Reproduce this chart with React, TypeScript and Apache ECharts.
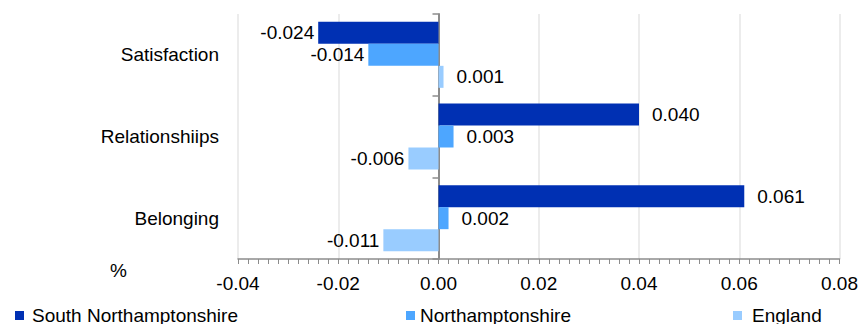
import React, { useEffect, useRef } from "react";
import * as echarts from "echarts";

const categories = ["Satisfaction", "Relationshiips", "Belonging"];
const seriesNames = ["South Northamptonshire", "Northamptonshire", "England"];
const southValues = [-0.024, 0.04, 0.061];
const northValues = [-0.014, 0.003, 0.002];
const englandValues = [0.001, -0.006, -0.011];
const colors = ["#0030b3", "#4da6ff", "#99ccff"];
const xTicks = { min: -0.04, max: 0.08, interval: 0.02 };

const FONT = "Liberation Sans, Arial, sans-serif";
const FS = 19;

function makeData(values: number[]) {
  return values.map((v) => ({
    value: v,
    label: v >= 0 ? { position: "right", distance: 13 } : { position: "left", distance: 4 },
  }));
}

export default function App() {
  const ref = useRef<HTMLDivElement>(null);
  useEffect(() => {
    if (!ref.current) return;
    const chart = echarts.init(ref.current, null, { renderer: "svg" });
    const allValues = [southValues, northValues, englandValues];
    const legendLefts = [15, 406, 733];
    const legendTextPad = [3, 0, 5];
    chart.setOption({
      animation: false,
      textStyle: { fontFamily: FONT },
      grid: { left: 238, right: 19, top: 14, bottom: 65, containLabel: false },
      legend: seriesNames.map((n, i) => ({
        data: [n],
        left: legendLefts[i],
        top: 306,
        padding: 0,
        itemWidth: 9,
        itemHeight: 9,
        icon: "rect",
        itemGap: 0,
        textStyle: { fontSize: FS, color: "#000", fontFamily: FONT, padding: [0, 0, 0, legendTextPad[i]] },
      })),
      graphic: [
        {
          type: "text",
          left: 110,
          top: 261,
          style: { text: "%", fontSize: FS, fill: "#000", fontFamily: FONT },
        },
      ],
      xAxis: {
        type: "value",
        min: xTicks.min,
        max: xTicks.max,
        interval: xTicks.interval,
        axisLine: { show: true, lineStyle: { color: "#8c8c8c", width: 1.5 } },
        axisTick: { show: true, length: 5, lineStyle: { color: "#8c8c8c" } },
        minorTick: { show: true, splitNumber: 10, length: 5, lineStyle: { color: "#8c8c8c" } },
        splitLine: { show: true, lineStyle: { color: "#e6e6e6", width: 1.5 } },
        axisLabel: {
          fontSize: FS,
          color: "#000",
          margin: 15,
          fontFamily: FONT,
          formatter: (v: number) => v.toFixed(2),
        },
      },
      yAxis: [
        {
          type: "category",
          data: categories,
          inverse: true,
          position: "left",
          axisLine: { show: false, onZero: false },
          axisTick: { show: false },
          axisLabel: { fontSize: FS, color: "#000", margin: 19, fontFamily: FONT },
        },
        {
          type: "category",
          data: categories,
          inverse: true,
          position: "left",
          axisLine: { show: true, onZero: true, lineStyle: { color: "#8c8c8c", width: 2 } },
          axisTick: { show: true, length: 6, lineStyle: { color: "#8c8c8c", width: 1.5 } },
          axisLabel: { show: false },
        },
      ],
      series: seriesNames.map((n, i) => ({
        name: n,
        type: "bar",
        yAxisIndex: 0,
        barWidth: 22,
        barGap: "0%",
        itemStyle: { color: colors[i] },
        label: {
          show: true,
          fontSize: FS,
          color: "#000",
          fontFamily: FONT,
          formatter: (p: any) => Number(p.value).toFixed(3),
        },
        data: makeData(allValues[i]),
      })),
    });
    return () => chart.dispose();
  }, []);
  return <div ref={ref} style={{ width: 861, height: 324, position: "absolute", left: 0, top: 0 }} />;
}
